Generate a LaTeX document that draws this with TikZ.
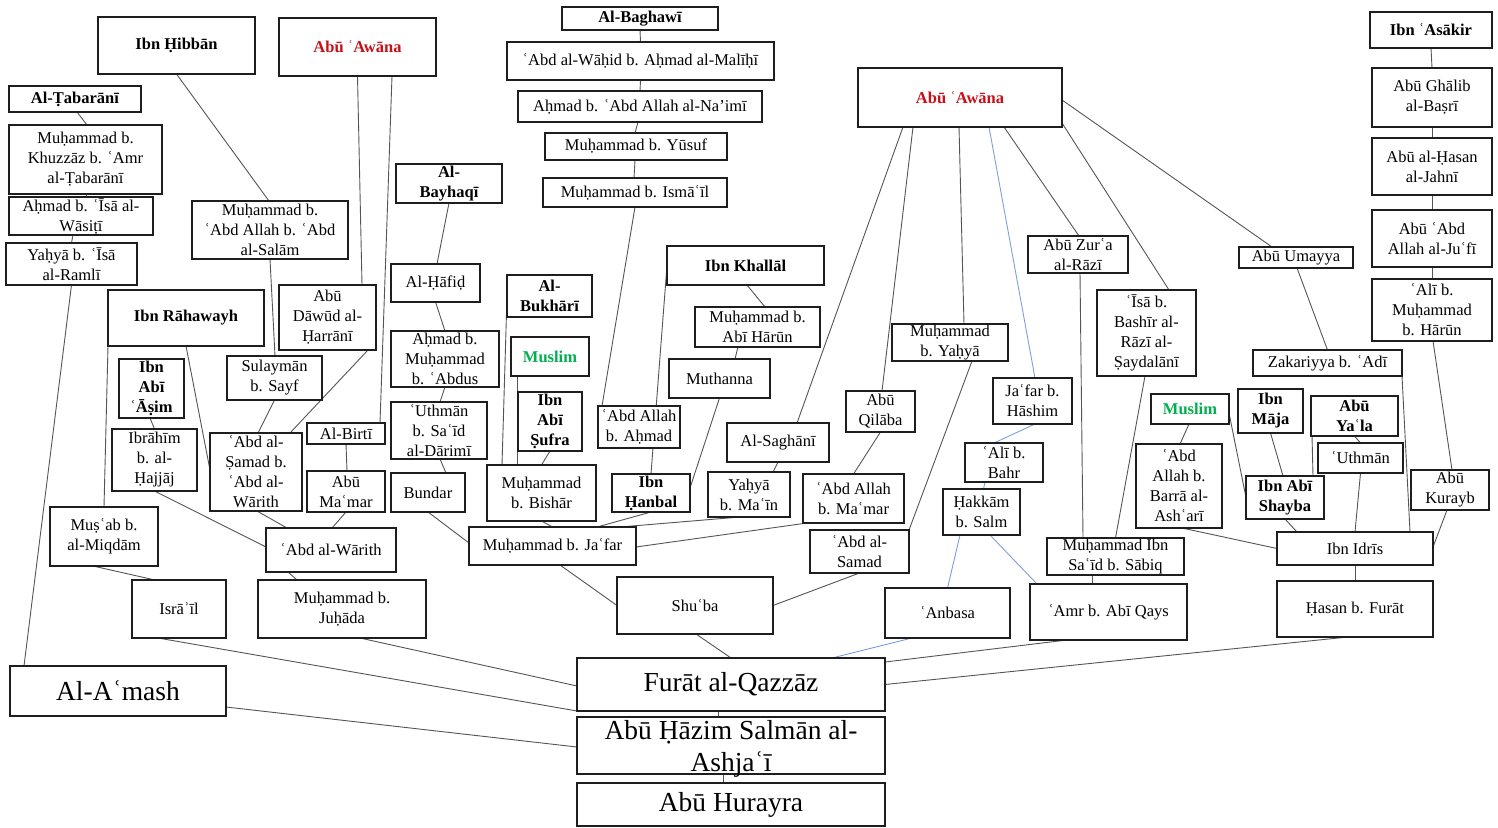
\documentclass[tikz,border=0pt]{standalone}
\usepackage{fontspec}
\setmainfont{Liberation Serif}
\usetikzlibrary{backgrounds}

\definecolor{awred}{RGB}{200,16,24}
\definecolor{mgreen}{RGB}{0,176,80}
\definecolor{lncol}{RGB}{85,85,85}
\definecolor{blcol}{RGB}{125,160,220}
\definecolor{boxcol}{RGB}{30,30,30}

% box given by its corners (x1,y1)-(x2,y2) in pixel units, text centred in it
\newcommand\isnadbox[7][]{%
  \node[box, minimum width={#5-#3}, minimum height={#6-#4},
        label={[txt,#1]center:{#7}}] (#2) at ({(#3+#5)/2},{(#4+#6)/2}) {};}

\tikzset{
  box/.style={rectangle, draw=boxcol, line width=1.3pt, fill=white,
              inner sep=0pt, outer sep=0pt},
  txt/.style={font=\fontsize{16.5}{20}\selectfont, align=center,
              inner sep=0pt, text=black},
  bf/.style={font=\fontsize{16.5}{20}\selectfont\bfseries},
  big/.style={font=\fontsize{27.5}{32}\selectfont},
  awn/.style={bf, text=awred},
  msl/.style={bf, text=mgreen},
  ln/.style={draw=lncol, line width=0.9pt},
  bl/.style={draw=blcol, line width=0.9pt},
}

\begin{document}
\begin{tikzpicture}[x=1pt, y=-1pt]
\useasboundingbox (0,0) rectangle (1498,827);

% ---- nodes ----
\isnadbox[bf]{hib}{98}{17}{255}{74}{Ibn Ḥibbān}
\isnadbox[awn]{awL}{279}{18}{436}{76}{Abū ʿAwāna}
\isnadbox[bf]{tab}{9}{86}{141}{112}{Al-Ṭabarānī}
\isnadbox{khu}{9}{125}{162}{194}{Muḥammad b.\\Khuzzāz b. ʿAmr\\al-Ṭabarānī}
\isnadbox{was}{9}{197}{153}{235}{Aḥmad b. ʿĪsā al-\\Wāsiṭī}
\isnadbox{ram}{6}{243}{137}{285}{Yaḥyā b. ʿĪsā\\al-Ramlī}
\isnadbox{sal}{192}{201}{348}{259}{Muḥammad b.\\ʿAbd Allah b. ʿAbd\\al-Salām}
\isnadbox[bf]{bay}{396}{164}{502}{203}{Al-\\Bayhaqī}
\isnadbox[bf]{bag}{562}{7}{718}{30}{Al-Baghawī}
\isnadbox{wah}{507}{42}{774}{80}{ʿAbd al-Wāḥid b. Aḥmad al-Malīḥī}
\isnadbox{nai}{518}{91}{762}{122}{Aḥmad b. ʿAbd Allah al-Na’imī}
\isnadbox{yus}{545}{133}{727}{160}{Muḥammad b. Yūsuf}
\isnadbox{ism}{543}{178}{727}{207}{Muḥammad b. Ismāʿīl}
\isnadbox[awn]{awR}{858}{68}{1062}{127}{Abū ʿAwāna}
\isnadbox[bf]{asa}{1370}{12}{1492}{48}{Ibn ʿAsākir}
\isnadbox{gha}{1372}{68}{1492}{127}{Abū Ghālib\\al-Baṣrī}
\isnadbox{jah}{1372}{138}{1492}{195}{Abū al-Ḥasan\\al-Jahnī}
\isnadbox{juf}{1372}{210}{1492}{267}{Abū ʿAbd\\Allah al-Juʿfī}
\isnadbox{alh}{1372}{279}{1492}{341}{ʿAlī b.\\Muḥammad\\b. Hārūn}
\isnadbox{uma}{1239}{247}{1353}{268}{Abū Umayya}
\isnadbox{zur}{1028}{236}{1128}{273}{Abū Zurʿa\\al-Rāzī}
\isnadbox{isa}{1097}{290}{1196}{376}{ʿĪsā b.\\Bashīr al-\\Rāzī al-\\Ṣaydalānī}
\isnadbox{zak}{1253}{350}{1402}{376}{Zakariyya b. ʿAdī}
\isnadbox{haf}{391}{264}{480}{302}{Al-Ḥāfiḍ}
\isnadbox[bf]{kha}{667}{246}{824}{285}{Ibn Khallāl}
\isnadbox[bf]{buk}{507}{275}{592}{317}{Al-\\Bukhārī}
\isnadbox[bf]{rah}{108}{290}{264}{346}{Ibn Rāhawayh}
\isnadbox{daw}{279}{285}{376}{350}{Abū\\Dāwūd al-\\Ḥarrānī}
\isnadbox{mah}{695}{307}{820}{347}{Muḥammad b.\\Abī Hārūn}
\isnadbox{myh}{892}{324}{1008}{361}{Muḥammad\\b. Yaḥyā}
\isnadbox{abd}{391}{331}{499}{387}{Aḥmad b.\\Muḥammad\\b. ʿAbdus}
\isnadbox[msl]{msL}{511}{337}{589}{376}{Muslim}
\isnadbox{sul}{227}{356}{322}{400}{Sulaymān\\b. Sayf}
\isnadbox[bf]{asi}{119}{359}{184}{418}{Ibn\\Abī\\ʿĀṣim}
\isnadbox{mut}{669}{359}{770}{398}{Muthanna}
\isnadbox{jaf}{993}{378}{1072}{424}{Jaʿfar b.\\Hāshim}
\isnadbox{qil}{846}{391}{915}{432}{Abū\\Qilāba}
\isnadbox[bf]{suf}{518}{392}{582}{451}{Ibn\\Abī\\Ṣufra}
\isnadbox[msl]{msR}{1151}{394}{1229}{424}{Muslim}
\isnadbox[bf]{maj}{1238}{389}{1303}{433}{Ibn\\Māja}
\isnadbox[bf]{yal}{1311}{396}{1398}{436}{Abū\\Yaʿla}
\isnadbox{dar}{391}{402}{487}{459}{ʿUthmān\\b. Saʿīd\\al-Dārimī}
\isnadbox{aah}{598}{406}{680}{448}{ʿAbd Allah\\b. Aḥmad}
\isnadbox{bir}{307}{423}{385}{444}{Al-Birtī}
\isnadbox{sag}{727}{423}{829}{462}{Al-Saghānī}
\isnadbox{ibr}{112}{429}{197}{491}{Ibrāhīm\\b. al-\\Ḥajjāj}
\isnadbox{sam}{210}{433}{302}{511}{ʿAbd al-\\Ṣamad b.\\ʿAbd al-\\Wārith}
\isnadbox{bah}{965}{443}{1043}{482}{ʿAlī b.\\Bahr}
\isnadbox{uth}{1318}{443}{1403}{473}{ʿUthmān}
\isnadbox{bar}{1136}{444}{1222}{528}{ʿAbd\\Allah b.\\Barrā al-\\Ashʿarī}
\isnadbox{bis}{487}{465}{596}{521}{Muḥammad\\b. Bishār}
\isnadbox{mam}{307}{471}{385}{512}{Abū\\Maʿmar}
\isnadbox{ymn}{708}{472}{790}{517}{Yaḥyā\\b. Maʿīn}
\isnadbox{bun}{391}{473}{465}{512}{Bundar}
\isnadbox[bf]{han}{612}{474}{690}{512}{Ibn\\Ḥanbal}
\isnadbox{amm}{803}{474}{904}{523}{ʿAbd Allah\\b. Maʿmar}
\isnadbox[bf]{shy}{1246}{476}{1324}{519}{Ibn Abī\\Shayba}
\isnadbox{kur}{1411}{470}{1489}{510}{Abū\\Kurayb}
\isnadbox{hak}{943}{489}{1020}{535}{Ḥakkām\\b. Salm}
\isnadbox{mus}{50}{507}{158}{566}{Muṣʿab b.\\al-Miqdām}
\isnadbox{war}{266}{528}{396}{572}{ʿAbd al-Wārith}
\isnadbox{mjf}{469}{527}{636}{565}{Muḥammad b. Jaʿfar}
\isnadbox{sa2}{810}{530}{909}{573}{ʿAbd al-\\Samad}
\isnadbox{sab}{1047}{538}{1184}{575}{Muḥammad Ibn\\Saʿīd b. Sābiq}
\isnadbox{idr}{1277}{532}{1433}{565}{Ibn Idrīs}
\isnadbox{isr}{132}{580}{226}{638}{Isrāʾīl}
\isnadbox{juh}{258}{580}{426}{638}{Muḥammad b.\\Juḥāda}
\isnadbox{shu}{617}{577}{773}{634}{Shuʿba}
\isnadbox{anb}{885}{588}{1010}{638}{ʿAnbasa}
\isnadbox{amr}{1030}{584}{1187}{640}{ʿAmr b. Abī Qays}
\isnadbox{has}{1277}{581}{1433}{637}{Ḥasan b. Furāt}
\isnadbox[big]{ams}{10}{666}{226}{716}{Al-Aʿmash}
\isnadbox[big]{fur}{577}{658}{885}{711}{Furāt al-Qazzāz}
\isnadbox[big,yshift=-3pt]{haz}{577}{717}{885}{774}{Abū Ḥāzim Salmān al-\\Ashjaʿī}
\isnadbox[big]{hur}{577}{783}{885}{826}{Abū Hurayra}

% ---- connectors, kept behind the boxes ----
\begin{pgfonlayer}{background}
\fill[white] (0,0) rectangle (1498,827);
% al-Tabarani
\draw[ln] ([xshift=2pt]tab.south) -- ([xshift=1.5pt]khu.north);
\draw[ln] ([xshift=0.5pt]khu.south) -- ([xshift=5pt]was.north);
\draw[ln] ([xshift=-8pt]was.south) -- (ram.north);
\draw[ln] (ram.south) -- ([xshift=-94pt]ams.north);
% Ibn Hibban and the left Abu Awana
\draw[ln] (hib.south) -- ([xshift=-1pt]sal.north);
\draw[ln] (sal.south) -- ([xshift=0.5pt]sul.north);
\draw[ln] (awL.south) -- ([xshift=34.5pt]daw.north);
\draw[ln] ([xshift=34.5pt]awL.south) -- ([xshift=34pt]bir.north);
\draw[ln] ([xshift=40.5pt]daw.south) -- ([xshift=34pt]sam.north);
% al-Bayhaqi
\draw[ln] (bay.south) -- ([xshift=1.5pt]haf.north);
\draw[ln] (haf.south) -- (abd.north);
\draw[ln] (abd.south) -- ([xshift=1pt]dar.north);
\draw[ln] ([xshift=1pt]dar.south) -- ([xshift=18pt]bun.north);
\draw[ln] (bun.south) -- ([yshift=3pt]mjf.west);
\draw[ln] (bir.south) -- ([xshift=1pt]mam.north);
\draw[ln] (mam.south) -- ([xshift=1pt]war.north);
\draw[ln] (sul.south) -- ([xshift=2pt]sam.north);
% Ibn Rahawayh, Ibn Abi Asim
\draw[ln] (rah.south west) -- (mus.north);
\draw[ln] (rah.south) -- ([yshift=2pt]sam.west);
\draw[ln] ([xshift=-1.5pt]asi.south) -- (ibr.north);
\draw[ln] (ibr.south) -- ([yshift=3pt]war.west);
\draw[ln] ([xshift=1pt]sam.south) -- ([xshift=-44pt]war.north);
\draw[ln] ([xshift=-11pt]mus.south) -- ([xshift=-24pt]isr.north);
\draw[ln] ([xshift=-43pt]war.south) -- ([xshift=-45pt]juh.north);
% into Furat and Abu Hazim
\draw[ln] ([xshift=-21pt]isr.south) -- (fur.south west);
\draw[ln] ([xshift=18pt]juh.south) -- ([yshift=-1.5pt]fur.west);
\draw[ln] ([yshift=-16pt]ams.east) -- ([yshift=-1.5pt]haz.west);
\draw[ln] ([xshift=7.5pt]mjf.south) -- (shu.west);
\draw[ln] (sa2.south) -- (shu.east);
\draw[ln] ([xshift=1pt]shu.south) -- (fur.north);
\draw[bl] ([xshift=-35.5pt]anb.south) -- ([xshift=101pt]fur.north);
\draw[bl] ([xshift=-21.5pt]hak.south) -- (anb.north);
\draw[bl] ([xshift=8.5pt]hak.south) -- ([xshift=-71.5pt]amr.north);
\draw[ln] ([xshift=-41.5pt]amr.south) -- ([yshift=22.5pt]fur.east);
\draw[ln] ([xshift=-7pt]has.south) -- (fur.east);
\draw[ln] ([xshift=-13pt]fur.south) -- ([xshift=-13pt]haz.north);
\draw[ln] ([xshift=-8pt]haz.south) -- ([xshift=-8pt]hur.north);
% right-hand side
\draw[ln] (idr.south) -- (has.north);
\draw[ln] ([xshift=-23.5pt]sab.south) -- ([xshift=-16.5pt]amr.north);
\draw[ln] ([xshift=2pt]zur.south) -- ([xshift=-32.5pt]sab.north);
\draw[ln] ([xshift=-1.5pt]isa.south) -- (sab.north);
\draw[ln] ([xshift=-1pt]msR.south) -- ([xshift=1pt]bar.north);
\draw[ln] ([yshift=-4pt]msR.east) -- (shy.west);
\draw[ln] (maj.south) -- ([xshift=-2pt]shy.north);
\draw[ln] ([xshift=1pt]yal.south west) -- ([xshift=28pt]shy.north);
\draw[ln] (yal.south) -- (uth.north);
\draw[ln] (uth.south) -- (idr.north);
\draw[ln] (shy.south) -- ([xshift=-58pt]idr.north);
\draw[ln] (zak.south east) -- ([xshift=55pt]idr.north);
\draw[ln] ([xshift=-3pt]kur.south) -- ([yshift=1.5pt]idr.east);
\draw[ln] ([xshift=3pt]bar.south) -- (idr.west);
% Ibn Asakir
\draw[ln] (asa.south) -- (gha.north);
\draw[ln] (gha.south) -- (jah.north);
\draw[ln] (jah.south) -- (juf.north);
\draw[ln] (juf.south) -- (alh.north);
\draw[ln] ([xshift=1pt]alh.south) -- ([xshift=2pt]kur.north);
% the right Abu Awana
\draw[ln] ([xshift=-57pt]awR.south) -- ([xshift=19pt]sag.north);
\draw[ln] ([xshift=-47pt]awR.south) -- ([xshift=1.5pt]qil.north);
\draw[ln] ([xshift=-1pt]awR.south) -- ([xshift=14pt]myh.north);
\draw[bl] ([xshift=29pt]awR.south) -- ([xshift=2.5pt]jaf.north);
\draw[ln] ([xshift=44pt]awR.south) -- ([xshift=1pt]zur.north);
\draw[ln] ([yshift=-25.5pt]awR.east) -- ([xshift=22.5pt]isa.north);
\draw[ln] ([yshift=-2.5pt]awR.east) -- ([xshift=-24pt]uma.north);
\draw[ln] ([xshift=1pt]uma.south) -- (zak.north);
\draw[bl] ([xshift=2.5pt]jaf.south) -- ([xshift=-10pt]bah.north);
\draw[bl] ([xshift=-19pt]bah.south) -- ([xshift=2pt]hak.north);
\draw[ln] ([xshift=22pt]myh.south) -- (sa2.north east);
\draw[ln] (qil.south) -- (amm.north);
\draw[ln] (sag.south) -- ([xshift=24pt]ymn.north);
\draw[ln] ([xshift=-9pt]ymn.south) -- ([xshift=67.5pt]mjf.north);
\draw[ln] ([xshift=-46.5pt]amm.south) -- ([yshift=-1pt]mjf.east);
% Ibn Khallal, al-Baghawi, al-Bukhari, Muslim
\draw[ln] (han.south) -- ([xshift=44.5pt]mjf.north);
\draw[ln] (mut.south) -- ([yshift=5pt]han.east);
\draw[ln] ([xshift=-19.5pt]mah.south) -- ([xshift=15.5pt]mut.north);
\draw[ln] ([xshift=1.5pt]kha.south) -- ([xshift=7.5pt]mah.north);
\draw[ln] (kha.west) -- (han.north);
\draw[ln] (bag.south) -- (wah.north);
\draw[ln] (wah.south) -- (nai.north);
\draw[ln] ([xshift=-2pt]nai.south) -- ([xshift=-1pt]yus.north);
\draw[ln] ([xshift=-1pt]yus.south) -- ([xshift=-1pt]ism.north);
\draw[ln] (ism.south) -- ([xshift=-37pt]aah.north);
\draw[ln] (buk.west) -- ([xshift=-39.5pt]bis.north);
\draw[ln] ([xshift=-33pt]msL.south) -- ([xshift=-24.5pt]bis.north);
\draw[ln] (suf.south) -- (bis.north);
\draw[ln] (bis.south) -- (mjf.north);
\end{pgfonlayer}
\end{tikzpicture}
\end{document}
